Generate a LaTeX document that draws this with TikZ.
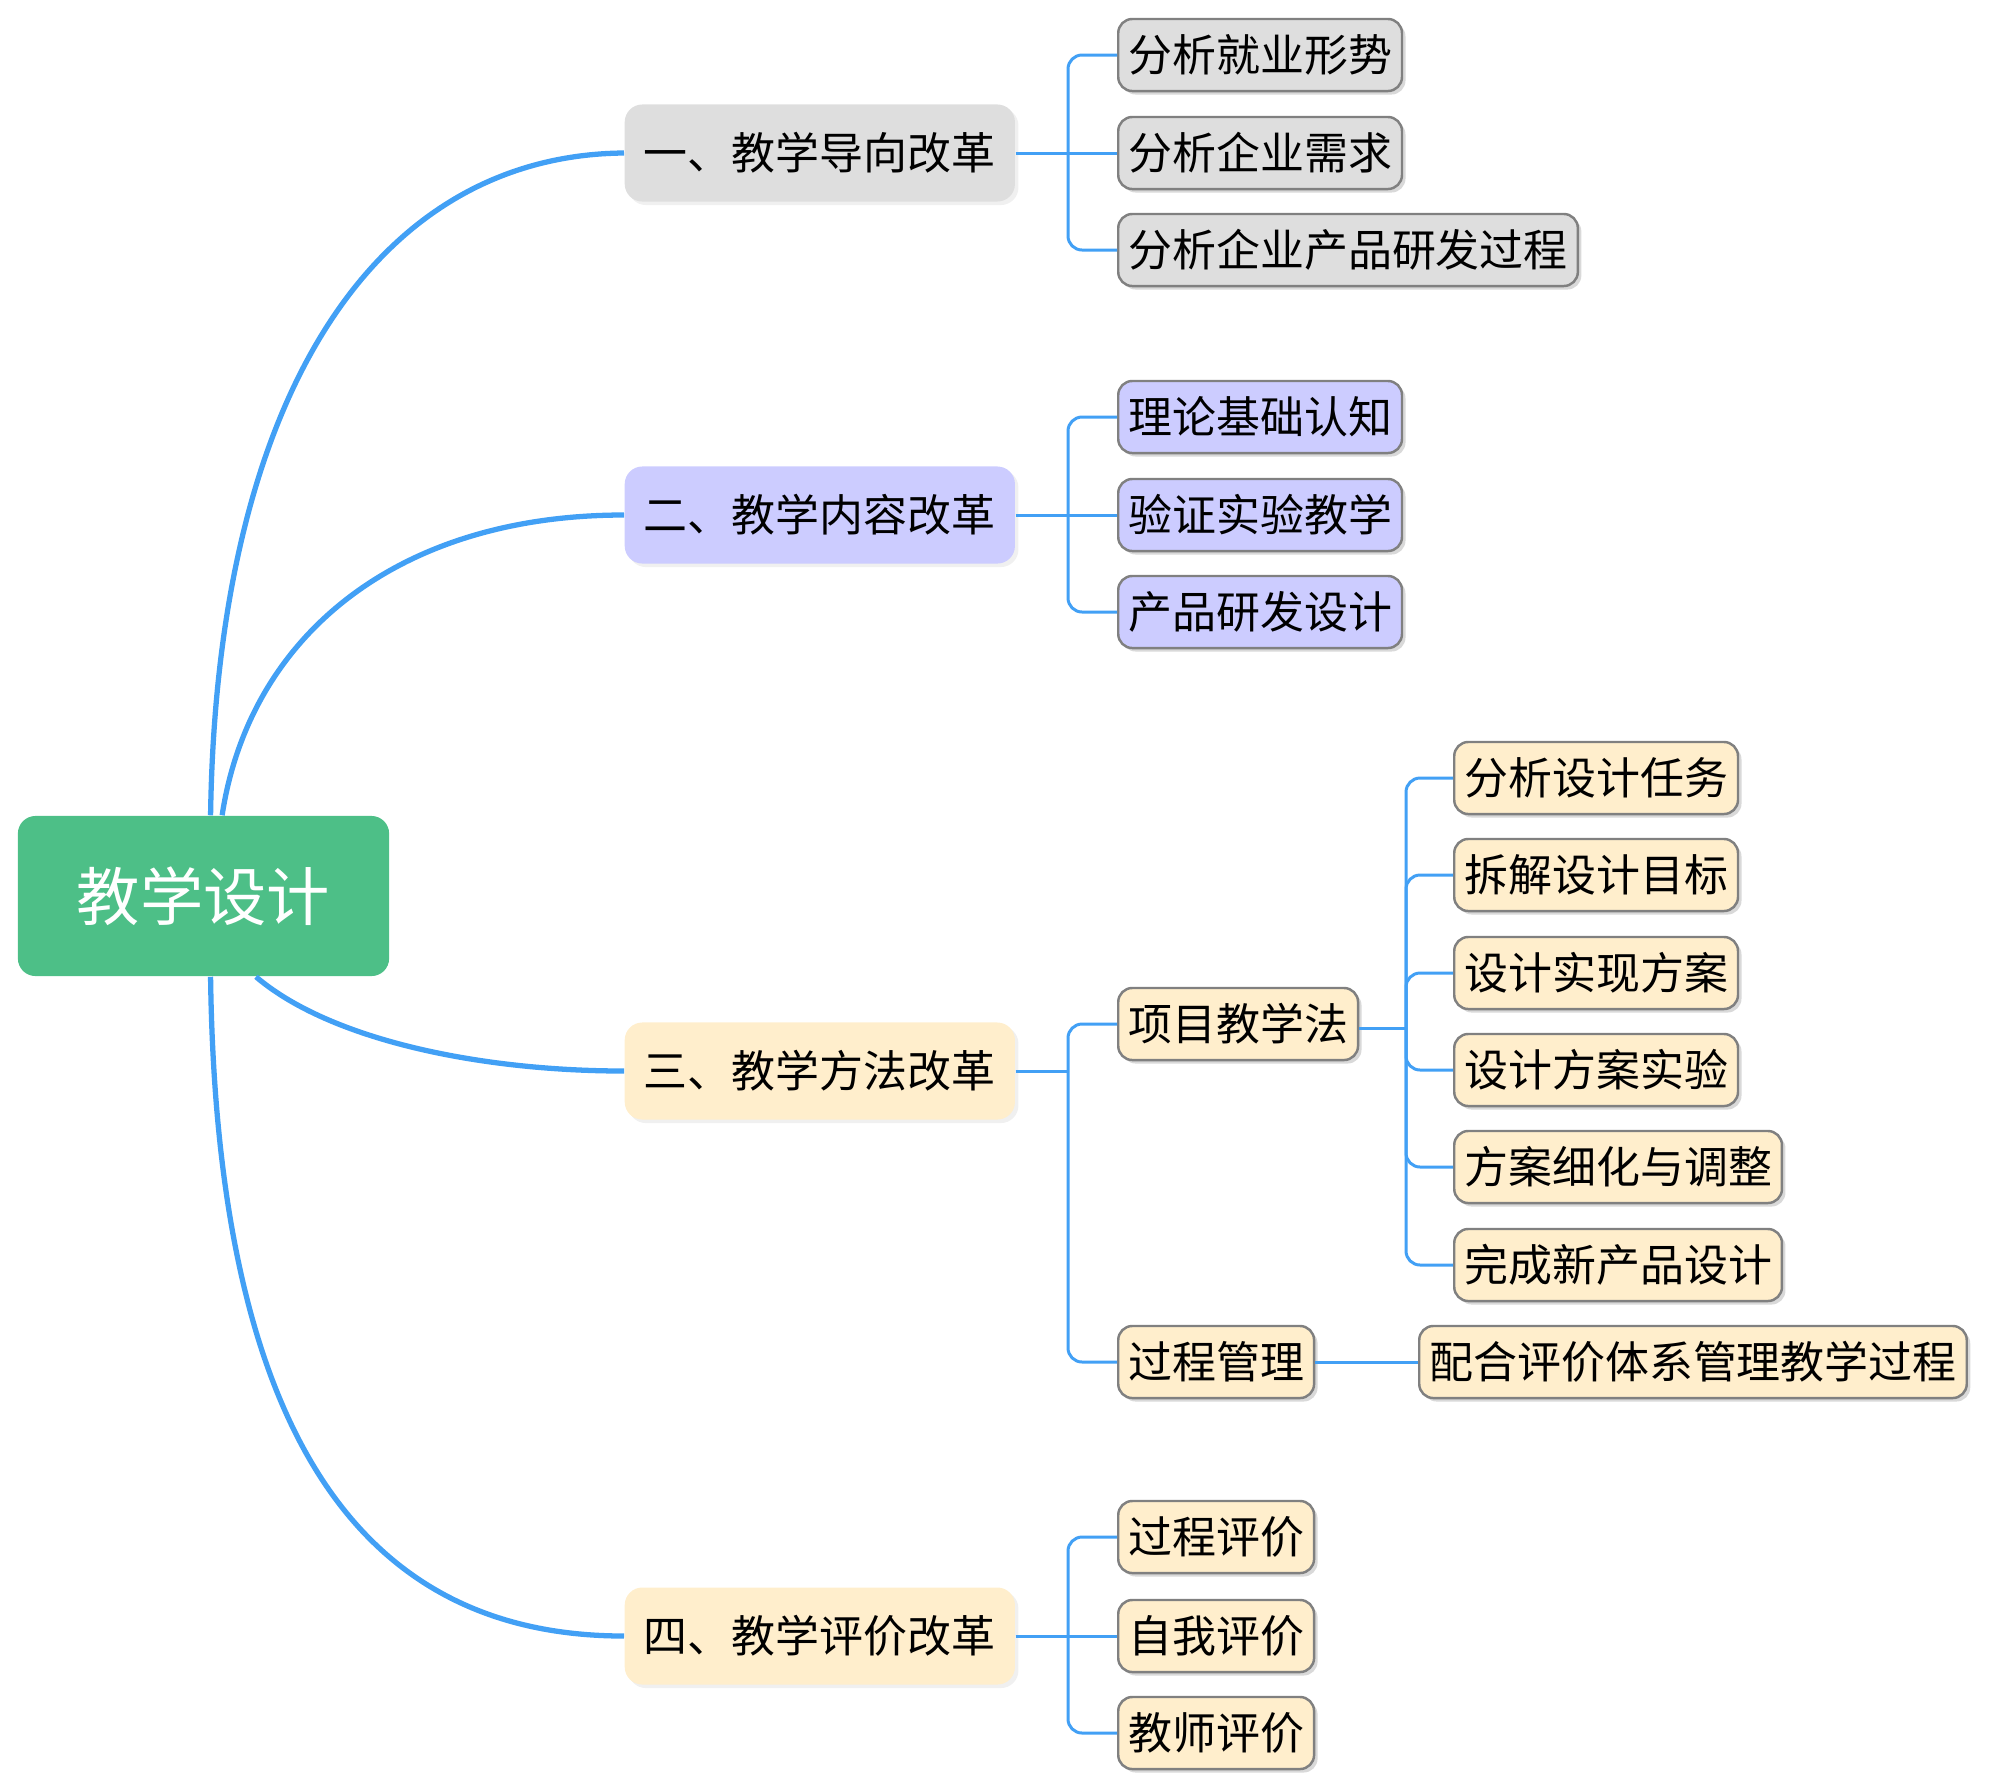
\documentclass[tikz,border=0pt]{standalone}
\usepackage{fontspec}
\setmainfont{Noto Sans CJK SC}
\usetikzlibrary{shadows}

\definecolor{rootgreen}{RGB}{77,191,135}
\definecolor{linkblue}{RGB}{66,160,245}
\definecolor{greyfill}{RGB}{222,222,222}
\definecolor{violetfill}{RGB}{204,204,255}
\definecolor{creamfill}{RGB}{255,238,204}
\definecolor{leafline}{RGB}{128,128,128}

\begin{document}
\begin{tikzpicture}[x=0.01cm, y=-0.01cm,
  topic/.style={rounded corners=5pt, fill=rootgreen, text=white, minimum width=3.71cm, minimum height=1.6cm, font=\fontsize{18}{20}\selectfont},
  branch/.style={anchor=west, rounded corners=5pt, minimum width=3.9cm, minimum height=0.97cm, inner sep=0pt, font=\fontsize{12.5}{14}\selectfont, drop shadow={shadow xshift=1pt, shadow yshift=-1pt, opacity=0.12}},
  leaf/.style={anchor=west, draw=leafline, line width=0.7pt, rounded corners=4pt, minimum height=0.72cm, inner ysep=0pt, inner xsep=0.1cm, font=\fontsize{12.5}{14}\selectfont, drop shadow={shadow xshift=1pt, shadow yshift=-1pt, opacity=0.3}},
  curve/.style={draw=linkblue, line width=1.5pt},
  link/.style={draw=linkblue, line width=0.85pt, rounded corners=4pt}]

\useasboundingbox (0,0) rectangle (2000,1784);

% centre
\node[topic] (root) at (203.5,896) {教学设计};

% first level
\node[branch, fill=greyfill] (a) at (624,153) {一、教学导向改革};
\node[branch, fill=violetfill] (b) at (624,515) {二、教学内容改革};
\node[branch, fill=creamfill] (c) at (624,1071) {三、教学方法改革};
\node[branch, fill=creamfill] (d) at (624,1636) {四、教学评价改革};

\draw[curve] (root.85) .. controls (217,383) and (383,155) .. (a.west);
\draw[curve] (root.77) .. controls (249,638) and (395,515) .. (b.west);
\draw[curve] (root.-57) .. controls (330,1040) and (480,1071) .. (c.west);
\draw[curve] (root.-85) .. controls (217,1467) and (383,1636) .. (d.west);

% orientation
\node[leaf, fill=greyfill] (a1) at (1117,55) {分析就业形势};
\node[leaf, fill=greyfill] (a2) at (1117,153) {分析企业需求};
\node[leaf, fill=greyfill] (a3) at (1117,250) {分析企业产品研发过程};
\coordinate (aj) at (1068,153);
\draw[link] (a.east) -- (a2.west);
\foreach \n in {a1,a3}
  \draw[link] (aj) |- (\n.west);

% content
\node[leaf, fill=violetfill] (b1) at (1117,417) {理论基础认知};
\node[leaf, fill=violetfill] (b2) at (1117,515) {验证实验教学};
\node[leaf, fill=violetfill] (b3) at (1117,612) {产品研发设计};
\coordinate (bj) at (1068,515);
\draw[link] (b.east) -- (b2.west);
\foreach \n in {b1,b3}
  \draw[link] (bj) |- (\n.west);

% method
\node[leaf, fill=creamfill] (c1) at (1117,1024) {项目教学法};
\node[leaf, fill=creamfill] (c2) at (1117,1362) {过程管理};
\coordinate (cj) at (1068,1071);
\draw[link] (c.east) -- (cj);
\foreach \n in {c1,c2}
  \draw[link] (cj) |- (\n.west);

\node[leaf, fill=creamfill] (m1) at (1453,778) {分析设计任务};
\node[leaf, fill=creamfill] (m2) at (1453,875) {拆解设计目标};
\node[leaf, fill=creamfill] (m3) at (1453,973) {设计实现方案};
\node[leaf, fill=creamfill] (m4) at (1453,1070) {设计方案实验};
\node[leaf, fill=creamfill] (m5) at (1453,1167) {方案细化与调整};
\node[leaf, fill=creamfill] (m6) at (1453,1265) {完成新产品设计};
\coordinate (mj) at (1406,1028);
\draw[link] (c1.east |- mj) -- (mj);
\foreach \n in {m1,m2,m3,m4,m5,m6}
  \draw[link] (mj) |- (\n.west);

\node[leaf, fill=creamfill] (p1) at (1418,1362) {配合评价体系管理教学过程};
\draw[link] (c2.east) -- (p1.west);

% evaluation
\node[leaf, fill=creamfill] (d1) at (1117,1537) {过程评价};
\node[leaf, fill=creamfill] (d2) at (1117,1636) {自我评价};
\node[leaf, fill=creamfill] (d3) at (1117,1733) {教师评价};
\coordinate (dj) at (1068,1636);
\draw[link] (d.east) -- (d2.west);
\foreach \n in {d1,d3}
  \draw[link] (dj) |- (\n.west);

\end{tikzpicture}
\end{document}
